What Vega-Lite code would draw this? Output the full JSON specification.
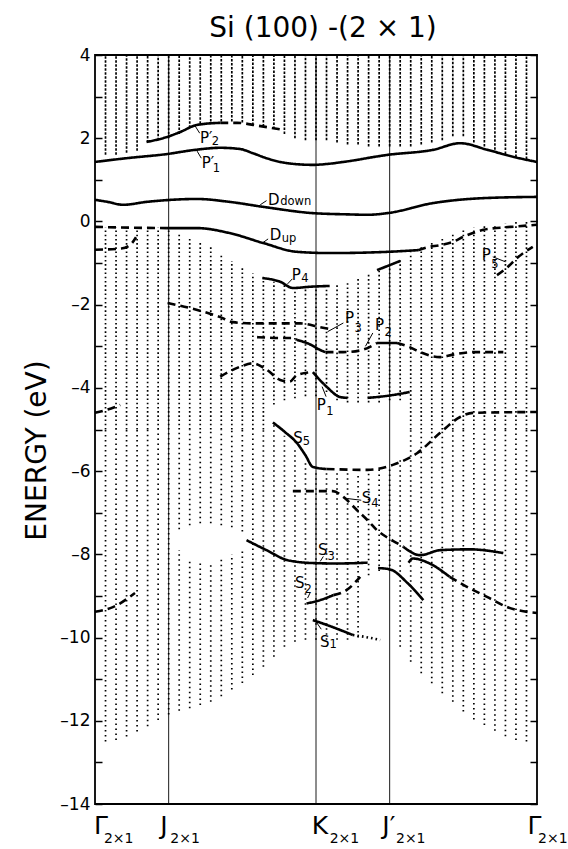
{
"$schema":"https://vega.github.io/schema/vega-lite/v6.json",
"width":442,"height":749,
"autosize":{"type":"none"},
"padding":{"left":95,"top":55,"right":31,"bottom":45},
"title":{"text":"Si (100) -(2 × 1)","fontSize":28,"font":"DejaVu Sans","fontWeight":"normal","anchor":"middle","baseline":"alphabetic","offset":18,"dx":7,"dy":37,"frame":"group","color":"black"},
"config":{"font":"DejaVu Sans","view":{"stroke":"black","strokeWidth":1.8}},
"resolve":{"axis":{"y":"independent"},"scale":{"strokeDash":"independent"}},
"datasets":{
"bulk":[
{"k":1,"lo":1.6,"hi":4,"r":"c"},{"k":1,"lo":-5,"hi":-0.15,"r":"v1"},{"k":1,"lo":-12.5,"hi":-5,"r":"v2"},
{"k":2,"lo":1.6,"hi":4,"r":"c"},{"k":2,"lo":-5,"hi":-0.15,"r":"v1"},{"k":2,"lo":-12.46,"hi":-5,"r":"v2"},
{"k":3,"lo":1.65,"hi":4,"r":"c"},{"k":3,"lo":-5,"hi":-0.15,"r":"v1"},{"k":3,"lo":-12.38,"hi":-5,"r":"v2"},
{"k":4,"lo":1.7,"hi":4,"r":"c"},{"k":4,"lo":-5,"hi":-0.15,"r":"v1"},{"k":4,"lo":-12.26,"hi":-5,"r":"v2"},
{"k":5,"lo":1.9,"hi":4,"r":"c"},{"k":5,"lo":-5,"hi":-0.15,"r":"v1"},{"k":5,"lo":-12.13,"hi":-5,"r":"v2"},
{"k":6,"lo":1.95,"hi":4,"r":"c"},{"k":6,"lo":-5,"hi":-0.15,"r":"v1"},{"k":6,"lo":-11.98,"hi":-5,"r":"v2"},
{"k":7,"lo":2.0,"hi":4,"r":"c"},{"k":7,"lo":-5,"hi":-0.15,"r":"v1"},{"k":7,"lo":-11.85,"hi":-5,"r":"v2"},
{"k":8,"lo":2.1,"hi":4,"r":"c"},{"k":8,"lo":-5,"hi":-0.28,"r":"v1"},{"k":8,"lo":-7.4,"hi":-5,"r":"v2"},{"k":8,"lo":-11.76,"hi":-7.9,"r":"v2"},
{"k":9,"lo":2.25,"hi":4,"r":"c"},{"k":9,"lo":-5,"hi":-0.4,"r":"v1"},{"k":9,"lo":-7.3,"hi":-5,"r":"v2"},{"k":9,"lo":-11.7,"hi":-8.1,"r":"v2"},
{"k":10,"lo":2.35,"hi":4,"r":"c"},{"k":10,"lo":-5,"hi":-0.5,"r":"v1"},{"k":10,"lo":-7.25,"hi":-5,"r":"v2"},{"k":10,"lo":-11.62,"hi":-8.2,"r":"v2"},
{"k":11,"lo":2.4,"hi":4,"r":"c"},{"k":11,"lo":-5,"hi":-0.62,"r":"v1"},{"k":11,"lo":-7.25,"hi":-5,"r":"v2"},{"k":11,"lo":-11.54,"hi":-8.2,"r":"v2"},
{"k":12,"lo":2.4,"hi":4,"r":"c"},{"k":12,"lo":-5,"hi":-0.78,"r":"v1"},{"k":12,"lo":-7.3,"hi":-5,"r":"v2"},{"k":12,"lo":-11.41,"hi":-8.1,"r":"v2"},
{"k":13,"lo":2.4,"hi":4,"r":"c"},{"k":13,"lo":-5,"hi":-0.95,"r":"v1"},{"k":13,"lo":-7.35,"hi":-5,"r":"v2"},{"k":13,"lo":-11.25,"hi":-8.0,"r":"v2"},
{"k":14,"lo":2.38,"hi":4,"r":"c"},{"k":14,"lo":-5,"hi":-1.1,"r":"v1"},{"k":14,"lo":-7.45,"hi":-5,"r":"v2"},{"k":14,"lo":-11.09,"hi":-7.9,"r":"v2"},
{"k":15,"lo":2.32,"hi":4,"r":"c"},{"k":15,"lo":-5,"hi":-1.25,"r":"v1"},{"k":15,"lo":-10.9,"hi":-5,"r":"v2"},
{"k":16,"lo":2.28,"hi":4,"r":"c"},{"k":16,"lo":-5,"hi":-1.35,"r":"v1"},{"k":16,"lo":-10.7,"hi":-5,"r":"v2"},
{"k":17,"lo":2.22,"hi":4,"r":"c"},{"k":17,"lo":-4.4,"hi":-1.45,"r":"v1"},{"k":17,"lo":-10.46,"hi":-4.9,"r":"v2"},
{"k":18,"lo":2.1,"hi":4,"r":"c"},{"k":18,"lo":-4.3,"hi":-1.5,"r":"v1"},{"k":18,"lo":-10.22,"hi":-5.15,"r":"v2"},
{"k":19,"lo":2.0,"hi":4,"r":"c"},{"k":19,"lo":-4.25,"hi":-1.55,"r":"v1"},{"k":19,"lo":-10.1,"hi":-5.45,"r":"v2"},
{"k":20,"lo":1.95,"hi":4,"r":"c"},{"k":20,"lo":-4.2,"hi":-1.6,"r":"v1"},{"k":20,"lo":-10.05,"hi":-5.75,"r":"v2"},
{"k":21,"lo":1.95,"hi":4,"r":"c"},{"k":21,"lo":-4.2,"hi":-1.6,"r":"v1"},{"k":21,"lo":-10.05,"hi":-6.0,"r":"v2"},
{"k":22,"lo":1.95,"hi":4,"r":"c"},{"k":22,"lo":-4.1,"hi":-1.55,"r":"v1"},{"k":22,"lo":-10.05,"hi":-6.0,"r":"v2"},
{"k":23,"lo":1.9,"hi":4,"r":"c"},{"k":23,"lo":-4.3,"hi":-1.5,"r":"v1"},{"k":23,"lo":-10.05,"hi":-6.05,"r":"v2"},
{"k":24,"lo":1.85,"hi":4,"r":"c"},{"k":24,"lo":-4.35,"hi":-1.45,"r":"v1"},{"k":24,"lo":-10.05,"hi":-6.05,"r":"v2"},
{"k":25,"lo":1.85,"hi":4,"r":"c"},{"k":25,"lo":-4.35,"hi":-1.35,"r":"v1"},{"k":25,"lo":-10.0,"hi":-6.05,"r":"v2"},
{"k":26,"lo":1.8,"hi":4,"r":"c"},{"k":26,"lo":-4.35,"hi":-1.25,"r":"v1"},{"k":26,"lo":-8.5,"hi":-6.0,"r":"v2"},
{"k":27,"lo":1.8,"hi":4,"r":"c"},{"k":27,"lo":-4.35,"hi":-1.15,"r":"v1"},{"k":27,"lo":-8.4,"hi":-5.95,"r":"v2"},
{"k":28,"lo":1.8,"hi":4,"r":"c"},{"k":28,"lo":-4.3,"hi":-1.0,"r":"v1"},{"k":28,"lo":-8.4,"hi":-5.9,"r":"v2"},
{"k":29,"lo":1.8,"hi":4,"r":"c"},{"k":29,"lo":-4.3,"hi":-0.9,"r":"v1"},{"k":29,"lo":-10.22,"hi":-5.7,"r":"v2"},
{"k":30,"lo":1.8,"hi":4,"r":"c"},{"k":30,"lo":-5,"hi":-0.75,"r":"v1"},{"k":30,"lo":-10.58,"hi":-5,"r":"v2"},
{"k":31,"lo":1.85,"hi":4,"r":"c"},{"k":31,"lo":-5,"hi":-0.6,"r":"v1"},{"k":31,"lo":-10.86,"hi":-5,"r":"v2"},
{"k":32,"lo":1.9,"hi":4,"r":"c"},{"k":32,"lo":-5,"hi":-0.5,"r":"v1"},{"k":32,"lo":-11.1,"hi":-5,"r":"v2"},
{"k":33,"lo":1.95,"hi":4,"r":"c"},{"k":33,"lo":-5,"hi":-0.4,"r":"v1"},{"k":33,"lo":-11.34,"hi":-5,"r":"v2"},
{"k":34,"lo":2.05,"hi":4,"r":"c"},{"k":34,"lo":-5,"hi":-0.3,"r":"v1"},{"k":34,"lo":-11.54,"hi":-5,"r":"v2"},
{"k":35,"lo":2.05,"hi":4,"r":"c"},{"k":35,"lo":-5,"hi":-0.2,"r":"v1"},{"k":35,"lo":-11.78,"hi":-5,"r":"v2"},
{"k":36,"lo":1.9,"hi":4,"r":"c"},{"k":36,"lo":-5,"hi":-0.15,"r":"v1"},{"k":36,"lo":-11.97,"hi":-5,"r":"v2"},
{"k":37,"lo":1.8,"hi":4,"r":"c"},{"k":37,"lo":-5,"hi":-0.1,"r":"v1"},{"k":37,"lo":-12.1,"hi":-5,"r":"v2"},
{"k":38,"lo":1.72,"hi":4,"r":"c"},{"k":38,"lo":-5,"hi":-0.1,"r":"v1"},{"k":38,"lo":-12.24,"hi":-5,"r":"v2"},
{"k":39,"lo":1.62,"hi":4,"r":"c"},{"k":39,"lo":-5,"hi":-0.05,"r":"v1"},{"k":39,"lo":-12.37,"hi":-5,"r":"v2"},
{"k":40,"lo":1.55,"hi":4,"r":"c"},{"k":40,"lo":-5,"hi":0,"r":"v1"},{"k":40,"lo":-12.46,"hi":-5,"r":"v2"},
{"k":41,"lo":1.5,"hi":4,"r":"c"},{"k":41,"lo":-5,"hi":0,"r":"v1"},{"k":41,"lo":-12.5,"hi":-5,"r":"v2"}
],
"kpts":[{"k":7},{"k":21},{"k":28}],
"lines":[
{"id":"p1p","s":"solid","k":0,"e":1.43},{"id":"p1p","s":"solid","k":3,"e":1.52},{"id":"p1p","s":"solid","k":6.84,"e":1.62},{"id":"p1p","s":"solid","k":9.5,"e":1.72},{"id":"p1p","s":"solid","k":11.9,"e":1.77},{"id":"p1p","s":"solid","k":13.8,"e":1.74},{"id":"p1p","s":"solid","k":15,"e":1.64},{"id":"p1p","s":"solid","k":16.3,"e":1.52},{"id":"p1p","s":"solid","k":17.6,"e":1.43},{"id":"p1p","s":"solid","k":19,"e":1.38},{"id":"p1p","s":"solid","k":20.7,"e":1.36},{"id":"p1p","s":"solid","k":22,"e":1.38},{"id":"p1p","s":"solid","k":23.6,"e":1.43},{"id":"p1p","s":"solid","k":27.8,"e":1.6},{"id":"p1p","s":"solid","k":32.1,"e":1.72},{"id":"p1p","s":"solid","k":34.7,"e":1.88},{"id":"p1p","s":"solid","k":37.3,"e":1.72},{"id":"p1p","s":"solid","k":39.8,"e":1.55},{"id":"p1p","s":"solid","k":42,"e":1.43},
{"id":"p2p","s":"solid","k":4.9,"e":1.91},{"id":"p2p","s":"solid","k":6.84,"e":2.03},{"id":"p2p","s":"solid","k":8.1,"e":2.15},{"id":"p2p","s":"solid","k":9.7,"e":2.32},{"id":"p2p","s":"solid","k":11.9,"e":2.37},
{"id":"p2pd","s":"dash","k":11.9,"e":2.37},{"id":"p2pd","s":"dash","k":13.5,"e":2.37},{"id":"p2pd","s":"dash","k":15.5,"e":2.3},{"id":"p2pd","s":"dash","k":17.9,"e":2.2},
{"id":"dd","s":"solid","k":0,"e":0.52},{"id":"dd","s":"solid","k":1.2,"e":0.47},{"id":"dd","s":"solid","k":2.66,"e":0.4},{"id":"dd","s":"solid","k":4.9,"e":0.47},{"id":"dd","s":"solid","k":9.7,"e":0.54},{"id":"dd","s":"solid","k":12.8,"e":0.47},{"id":"dd","s":"solid","k":16,"e":0.35},{"id":"dd","s":"solid","k":20.7,"e":0.2},{"id":"dd","s":"solid","k":24,"e":0.17},{"id":"dd","s":"solid","k":25.9,"e":0.16},{"id":"dd","s":"solid","k":27.8,"e":0.2},{"id":"dd","s":"solid","k":32.1,"e":0.44},{"id":"dd","s":"solid","k":36.9,"e":0.56},{"id":"dd","s":"solid","k":42,"e":0.59},
{"id":"du","s":"solid","k":6.84,"e":-0.16},{"id":"du","s":"solid","k":9.7,"e":-0.16},{"id":"du","s":"solid","k":12.8,"e":-0.28},{"id":"du","s":"solid","k":16,"e":-0.52},{"id":"du","s":"solid","k":19.2,"e":-0.73},{"id":"du","s":"solid","k":22.3,"e":-0.76},{"id":"du","s":"solid","k":27.8,"e":-0.73},{"id":"du","s":"solid","k":30.7,"e":-0.69},
{"id":"dud","s":"dash","k":30.7,"e":-0.69},{"id":"dud","s":"dash","k":31.6,"e":-0.62},{"id":"dud","s":"dash","k":32.8,"e":-0.57},{"id":"dud","s":"dash","k":34,"e":-0.49},{"id":"dud","s":"dash","k":35,"e":-0.37},{"id":"dud","s":"dash","k":36.9,"e":-0.2},{"id":"dud","s":"dash","k":38.5,"e":-0.15},{"id":"dud","s":"dash","k":40.1,"e":-0.12},{"id":"dud","s":"dash","k":42,"e":-0.08},
{"id":"l0","s":"dash","k":0,"e":-0.13},{"id":"l0","s":"dash","k":3.5,"e":-0.15},{"id":"l0","s":"dash","k":6.84,"e":-0.16},
{"id":"l07","s":"dash","k":0,"e":-0.68},{"id":"l07","s":"dash","k":2.5,"e":-0.65},{"id":"l07","s":"dash","k":3.4,"e":-0.55},{"id":"l07","s":"dash","k":3.9,"e":-0.38},
{"id":"p4","s":"solid","k":15.9,"e":-1.36},{"id":"p4","s":"solid","k":17.6,"e":-1.45},{"id":"p4","s":"solid","k":18.8,"e":-1.6},{"id":"p4","s":"solid","k":20.4,"e":-1.57},{"id":"p4","s":"solid","k":22.3,"e":-1.55},
{"id":"jp1","s":"solid","k":26.8,"e":-1.17},{"id":"jp1","s":"solid","k":29,"e":-0.95},
{"id":"p5","s":"dash","k":38.2,"e":-1.29},{"id":"p5","s":"dash","k":39.2,"e":-1.1},{"id":"p5","s":"dash","k":40.1,"e":-0.88},{"id":"p5","s":"dash","k":41.6,"e":-0.61},
{"id":"p3u","s":"dash","k":6.9,"e":-1.96},{"id":"p3u","s":"dash","k":9,"e":-2.08},{"id":"p3u","s":"dash","k":11.9,"e":-2.3},{"id":"p3u","s":"dash","k":13.1,"e":-2.42},{"id":"p3u","s":"dash","k":15,"e":-2.45},{"id":"p3u","s":"dash","k":17.6,"e":-2.45},{"id":"p3u","s":"dash","k":19.5,"e":-2.45},{"id":"p3u","s":"dash","k":21.4,"e":-2.54},{"id":"p3u","s":"dash","k":22.6,"e":-2.6},
{"id":"p3l","s":"dash","k":15.4,"e":-2.78},{"id":"p3l","s":"dash","k":17.6,"e":-2.8},{"id":"p3l","s":"dash","k":18.8,"e":-2.8},{"id":"p3l","s":"dash","k":19.2,"e":-2.85},
{"id":"p3s","s":"solid","k":19.2,"e":-2.85},{"id":"p3s","s":"solid","k":20.4,"e":-2.95},{"id":"p3s","s":"solid","k":21.4,"e":-3.09},{"id":"p3s","s":"solid","k":21.9,"e":-3.14},
{"id":"p2d1","s":"dash","k":21.9,"e":-3.14},{"id":"p2d1","s":"dash","k":23.6,"e":-3.14},{"id":"p2d1","s":"dash","k":25.2,"e":-3.1},{"id":"p2d1","s":"dash","k":26.8,"e":-2.92},
{"id":"p2s","s":"solid","k":26.8,"e":-2.92},{"id":"p2s","s":"solid","k":28.7,"e":-2.92},
{"id":"p2d2","s":"dash","k":28.7,"e":-2.92},{"id":"p2d2","s":"dash","k":29.9,"e":-3.02},{"id":"p2d2","s":"dash","k":30.9,"e":-3.14},{"id":"p2d2","s":"dash","k":32.8,"e":-3.26},{"id":"p2d2","s":"dash","k":34,"e":-3.2},{"id":"p2d2","s":"dash","k":36,"e":-3.14},{"id":"p2d2","s":"dash","k":38.8,"e":-3.14},
{"id":"p1d","s":"dash","k":11.9,"e":-3.73},{"id":"p1d","s":"dash","k":13.8,"e":-3.49},{"id":"p1d","s":"dash","k":15,"e":-3.41},{"id":"p1d","s":"dash","k":16.3,"e":-3.56},{"id":"p1d","s":"dash","k":17.6,"e":-3.81},{"id":"p1d","s":"dash","k":18.5,"e":-3.85},{"id":"p1d","s":"dash","k":19.2,"e":-3.69},{"id":"p1d","s":"dash","k":20.7,"e":-3.62},
{"id":"p1s","s":"solid","k":20.7,"e":-3.62},{"id":"p1s","s":"solid","k":22,"e":-3.97},{"id":"p1s","s":"solid","k":23.3,"e":-4.22},{"id":"p1s","s":"solid","k":24,"e":-4.24},
{"id":"p1s2","s":"solid","k":25.9,"e":-4.24},{"id":"p1s2","s":"solid","k":27.5,"e":-4.2},{"id":"p1s2","s":"solid","k":29.9,"e":-4.1},
{"id":"l46","s":"dash","k":0,"e":-4.6},{"id":"l46","s":"dash","k":1.2,"e":-4.52},{"id":"l46","s":"dash","k":2.4,"e":-4.41},
{"id":"s5","s":"solid","k":16.9,"e":-4.83},{"id":"s5","s":"solid","k":18,"e":-5.05},{"id":"s5","s":"solid","k":19.2,"e":-5.33},{"id":"s5","s":"solid","k":20,"e":-5.62},{"id":"s5","s":"solid","k":20.7,"e":-5.9},{"id":"s5","s":"solid","k":22,"e":-5.95},
{"id":"s5d","s":"dash","k":22,"e":-5.95},{"id":"s5d","s":"dash","k":25.9,"e":-5.97},{"id":"s5d","s":"dash","k":28.3,"e":-5.85},{"id":"s5d","s":"dash","k":30.6,"e":-5.57},{"id":"s5d","s":"dash","k":32.8,"e":-5.08},{"id":"s5d","s":"dash","k":34.7,"e":-4.7},{"id":"s5d","s":"dash","k":35.9,"e":-4.6},{"id":"s5d","s":"dash","k":42,"e":-4.58},
{"id":"s4","s":"dash","k":18.8,"e":-6.48},{"id":"s4","s":"dash","k":22.6,"e":-6.48},{"id":"s4","s":"dash","k":23.6,"e":-6.62},{"id":"s4","s":"dash","k":24.9,"e":-6.94},{"id":"s4","s":"dash","k":25.9,"e":-7.18},{"id":"s4","s":"dash","k":26.8,"e":-7.42},{"id":"s4","s":"dash","k":27.8,"e":-7.6},{"id":"s4","s":"dash","k":28.7,"e":-7.73},{"id":"s4","s":"dash","k":29.3,"e":-7.82},
{"id":"u8","s":"solid","k":29.3,"e":-7.82},{"id":"u8","s":"solid","k":30.9,"e":-8.02},{"id":"u8","s":"solid","k":32.8,"e":-7.9},{"id":"u8","s":"solid","k":35.6,"e":-7.88},{"id":"u8","s":"solid","k":38.8,"e":-7.97},
{"id":"m8","s":"solid","k":29.8,"e":-8.2},{"id":"m8","s":"solid","k":30.2,"e":-8.1},{"id":"m8","s":"solid","k":31.8,"e":-8.22},{"id":"m8","s":"solid","k":33.7,"e":-8.54},
{"id":"m8d","s":"dash","k":33.7,"e":-8.54},{"id":"m8d","s":"dash","k":34.7,"e":-8.69},{"id":"m8d","s":"dash","k":37.3,"e":-9.03},{"id":"m8d","s":"dash","k":39.2,"e":-9.27},{"id":"m8d","s":"dash","k":42,"e":-9.41},
{"id":"l8","s":"solid","k":26.9,"e":-8.33},{"id":"l8","s":"solid","k":28,"e":-8.36},{"id":"l8","s":"solid","k":29.7,"e":-8.69},{"id":"l8","s":"solid","k":31.2,"e":-9.1},
{"id":"s3","s":"solid","k":14.4,"e":-7.66},{"id":"s3","s":"solid","k":16.3,"e":-7.9},{"id":"s3","s":"solid","k":18.3,"e":-8.14},{"id":"s3","s":"solid","k":20.7,"e":-8.21},{"id":"s3","s":"solid","k":23,"e":-8.22},{"id":"s3","s":"solid","k":25.9,"e":-8.2},
{"id":"s2","s":"solid","k":20.1,"e":-9.18},{"id":"s2","s":"solid","k":21.4,"e":-9.1},{"id":"s2","s":"solid","k":22.65,"e":-8.98},
{"id":"s2d","s":"dash","k":22.65,"e":-8.98},{"id":"s2d","s":"dash","k":23.9,"e":-8.86},{"id":"s2d","s":"dash","k":25.2,"e":-8.54},
{"id":"s1","s":"solid","k":20.7,"e":-9.58},{"id":"s1","s":"solid","k":22.6,"e":-9.75},{"id":"s1","s":"solid","k":24.5,"e":-9.94},
{"id":"s1d","s":"dot","k":24.5,"e":-9.94},{"id":"s1d","s":"dot","k":26,"e":-10.0},{"id":"s1d","s":"dot","k":27.1,"e":-10.06},
{"id":"l9","s":"dash","k":0,"e":-9.38},{"id":"l9","s":"dash","k":1.7,"e":-9.27},{"id":"l9","s":"dash","k":3.8,"e":-8.93}
],
"leaders":[
{"k":9.5,"e":2.3,"k2":9.95,"e2":2.12},{"k":9.7,"e":1.69,"k2":10.1,"e2":1.52},{"k":15.7,"e":0.4,"k2":16.3,"e2":0.5},{"k":15.9,"e":-0.52,"k2":16.45,"e2":-0.42},{"k":18.3,"e":-1.5,"k2":18.75,"e2":-1.38},{"k":22.1,"e":-2.65,"k2":23.6,"e2":-2.44},{"k":25.7,"e":-3.0,"k2":26.4,"e2":-2.68},{"k":21.58,"e":-3.97,"k2":21.96,"e2":-4.21},{"k":37.8,"e":-0.85,"k2":39.0,"e2":-0.97},{"k":24.0,"e":-6.66,"k2":25.3,"e2":-6.7},{"k":21.4,"e":-8.17,"k2":21.7,"e2":-8.05},{"k":20.2,"e":-9.05,"k2":20.45,"e2":-8.92},{"k":20.9,"e":-9.58,"k2":21.5,"e2":-9.8}
],
"mainLabels":[
{"k":9.98,"e":1.89,"t":"P′"},{"k":10.14,"e":1.28,"t":"P′"},{"k":16.45,"e":0.4,"t":"D"},{"k":16.6,"e":-0.44,"t":"D"},{"k":18.7,"e":-1.41,"t":"P"},{"k":23.76,"e":-2.45,"t":"P"},{"k":26.6,"e":-2.6,"t":"P"},{"k":21.07,"e":-4.53,"t":"P"},{"k":36.76,"e":-0.93,"t":"P"},{"k":18.85,"e":-5.33,"t":"S"},{"k":25.35,"e":-6.77,"t":"S"},{"k":21.2,"e":-8.02,"t":"S"},{"k":19.0,"e":-8.82,"t":"S"},{"k":21.39,"e":-10.22,"t":"S"}
],
"subLabels":[
{"k":11.1,"e":1.84,"t":"2"},{"k":11.2,"e":1.2,"t":"1"},{"k":17.6,"e":0.39,"t":"down"},{"k":17.75,"e":-0.49,"t":"up"},{"k":19.6,"e":-1.45,"t":"4"},{"k":24.66,"e":-2.65,"t":"3"},{"k":27.5,"e":-2.76,"t":"2"},{"k":21.97,"e":-4.65,"t":"1"},{"k":37.66,"e":-1.13,"t":"5"},{"k":19.75,"e":-5.37,"t":"5"},{"k":26.25,"e":-6.86,"t":"4"},{"k":22.1,"e":-8.14,"t":"3"},{"k":19.9,"e":-8.94,"t":"2"},{"k":22.29,"e":-10.26,"t":"1"}
],
"xMain":[
{"k":0,"e":-14.71,"t":"Γ"},{"k":6.3,"e":-14.71,"t":"J"},{"k":20.7,"e":-14.71,"t":"K"},{"k":27.4,"e":-14.71,"t":"J′"},{"k":41.2,"e":-14.71,"t":"Γ"}
],
"xSub":[
{"k":0.85,"e":-14.93,"t":"2×1"},{"k":7.15,"e":-14.93,"t":"2×1"},{"k":22.3,"e":-14.93,"t":"2×1"},{"k":28.6,"e":-14.93,"t":"2×1"},{"k":42.1,"e":-14.93,"t":"2×1"}
]
},
"layer":[
{"data":{"name":"bulk"},
 "mark":{"type":"rule","color":"black","strokeWidth":1.7},
 "encoding":{
  "x":{"field":"k","type":"quantitative","scale":{"domain":[0,42],"nice":false,"zero":false},"axis":null},
  "y":{"field":"lo","type":"quantitative","scale":{"domain":[-14,4],"nice":false,"zero":false},
       "axis":{"orient":"left","values":[-14,-13,-12,-11,-10,-9,-8,-7,-6,-5,-4,-3,-2,-1,0,1,2,3,4],
               "labelExpr":"datum.value % 2 != 0 ? '' : (datum.value < 0 ? '–' + abs(datum.value) : '' + datum.value)",
               "tickSize":-7,"tickWidth":1.5,"tickColor":"black","labelPadding":12,"labelFontSize":17,"labelColor":"black","labelFont":"DejaVu Sans","labelOverlap":false,
               "domain":false,"grid":false,"title":"ENERGY (eV)","titleFontSize":28,"titleFontWeight":"normal","titleColor":"black","titleFont":"DejaVu Sans","titlePadding":8,"titleY":395}},
  "y2":{"field":"hi"},
  "strokeDash":{"field":"r","type":"nominal","scale":{"domain":["c","v1","v2"],"range":[[2.5,1.5],[1.6,2.6],[1.5,3.5]]},"legend":null}
 }},
{"data":{"name":"kpts"},
 "mark":{"type":"rule","color":"black","strokeWidth":0.9},
 "encoding":{"x":{"field":"k","type":"quantitative","scale":{"domain":[0,42],"nice":false,"zero":false},"axis":null}}},
{"data":{"name":"lines"},
 "mark":{"type":"line","interpolate":"monotone","color":"black","strokeWidth":2.6},
 "encoding":{
  "x":{"field":"k","type":"quantitative","scale":{"domain":[0,42],"nice":false,"zero":false},"axis":null},
  "y":{"field":"e","type":"quantitative","scale":{"domain":[-14,4],"nice":false,"zero":false},
       "axis":{"orient":"right","values":[-14,-13,-12,-11,-10,-9,-8,-7,-6,-5,-4,-3,-2,-1,0,1,2,3,4],"labels":false,"tickSize":-7,"tickWidth":1.5,"tickColor":"black","domain":false,"grid":false,"title":null}},
  "detail":{"field":"id"},
  "strokeDash":{"field":"s","type":"nominal","scale":{"domain":["solid","dash","dot"],"range":[[1,0],[8,5],[1.6,3]]},"legend":null}
 }},
{"data":{"name":"leaders"},
 "mark":{"type":"rule","color":"black","strokeWidth":1},
 "encoding":{
  "x":{"field":"k","type":"quantitative","scale":{"domain":[0,42],"nice":false,"zero":false},"axis":null},
  "y":{"field":"e","type":"quantitative","scale":{"domain":[-14,4],"nice":false,"zero":false},"axis":null},
  "x2":{"field":"k2"},"y2":{"field":"e2"}}},
{"data":{"name":"mainLabels"},
 "mark":{"type":"text","align":"left","baseline":"alphabetic","fontSize":15,"font":"DejaVu Sans","color":"black"},
 "encoding":{
  "x":{"field":"k","type":"quantitative","scale":{"domain":[0,42],"nice":false,"zero":false},"axis":null},
  "y":{"field":"e","type":"quantitative","scale":{"domain":[-14,4],"nice":false,"zero":false},"axis":null},
  "text":{"field":"t"}}},
{"data":{"name":"subLabels"},
 "mark":{"type":"text","align":"left","baseline":"alphabetic","fontSize":11.5,"font":"DejaVu Sans","color":"black"},
 "encoding":{
  "x":{"field":"k","type":"quantitative","scale":{"domain":[0,42],"nice":false,"zero":false},"axis":null},
  "y":{"field":"e","type":"quantitative","scale":{"domain":[-14,4],"nice":false,"zero":false},"axis":null},
  "text":{"field":"t"}}},
{"data":{"name":"xMain"},
 "mark":{"type":"text","align":"left","baseline":"alphabetic","fontSize":25,"font":"DejaVu Sans","color":"black","dx":-1},
 "encoding":{
  "x":{"field":"k","type":"quantitative","scale":{"domain":[0,42],"nice":false,"zero":false},"axis":null},
  "y":{"field":"e","type":"quantitative","scale":{"domain":[-14,4],"nice":false,"zero":false},"axis":null},
  "text":{"field":"t"}}},
{"data":{"name":"xSub"},
 "mark":{"type":"text","align":"left","baseline":"alphabetic","fontSize":14,"font":"DejaVu Sans","color":"black"},
 "encoding":{
  "x":{"field":"k","type":"quantitative","scale":{"domain":[0,42],"nice":false,"zero":false},"axis":null},
  "y":{"field":"e","type":"quantitative","scale":{"domain":[-14,4],"nice":false,"zero":false},"axis":null},
  "text":{"field":"t"}}}
]
}
